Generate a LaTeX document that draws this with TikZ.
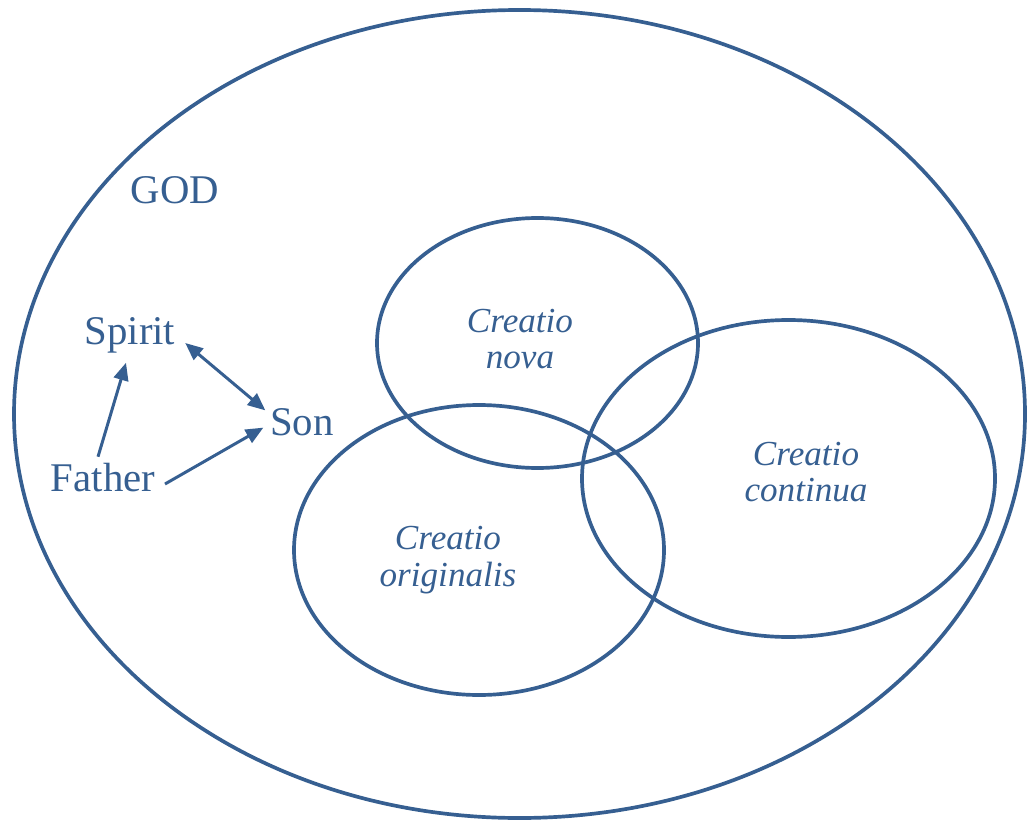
\documentclass[tikz,border=0pt]{standalone}
\usepackage{fontspec}
\setmainfont{Liberation Serif}
\usetikzlibrary{arrows.meta}
\definecolor{godblue}{RGB}{54,95,145}

\begin{document}
\begin{tikzpicture}[thick, >={Triangle[length=5pt,width=4.2pt]},
    ring/.style={draw=godblue, line width=1.05pt},
    person/.style={text=godblue, font=\fontsize{11.6}{14}\selectfont, inner sep=1pt},
    work/.style={text=godblue, font=\fontsize{10}{10.3}\selectfont\itshape, align=center, inner sep=0pt},
    link/.style={draw=godblue, line width=0.85pt}]

        % picture frame
        \useasboundingbox (0,0) rectangle (10.28,-8.23);

        % ==========================================
        % 1. God (outer ellipse)
        % ==========================================
        \draw[ring] (5.195,-4.14) ellipse [x radius=5.055, y radius=4.04];
        \node[person] (god) at (1.75,-1.90) {GOD};

        % ==========================================
        % 2. Trinity
        % ==========================================
        \node[person] (spirit) at (1.30,-3.35) {Spirit};
        \node[person] (son) at (3.02,-4.22) {Son};
        \node[person] (father) at (1.03,-4.78) {Father};

        \draw[link, ->] ([xshift=-0.05cm, yshift=0.02cm]father.north) -- ([xshift=-0.04cm, yshift=-0.05cm]spirit.south);
        \draw[link, <->] ([xshift=0.05cm, yshift=-0.08cm]spirit.east) -- ([xshift=0.0cm, yshift=-0.07cm]son.north west);
        \draw[link, ->] ([xshift=0.05cm, yshift=-0.06cm]father.east) -- ([xshift=-0.02cm, yshift=0.13cm]son.south west);

        % ==========================================
        % 3. Creation (three overlapping ellipses)
        % ==========================================
        \draw[ring] (5.375,-3.43) ellipse [x radius=1.605, y radius=1.25];
        \draw[ring] (4.79,-5.50) ellipse [x radius=1.85, y radius=1.45];
        \draw[ring] (7.885,-4.785) ellipse [x radius=2.065, y radius=1.585];

        \node[work] (nova) at (5.20,-3.39) {Creatio\\nova};
        \node[work] (originalis) at (4.48,-5.60) {Creatio\\originalis};
        \node[work] (continua) at (8.06,-4.72) {Creatio\\continua};

\end{tikzpicture}
\end{document}
